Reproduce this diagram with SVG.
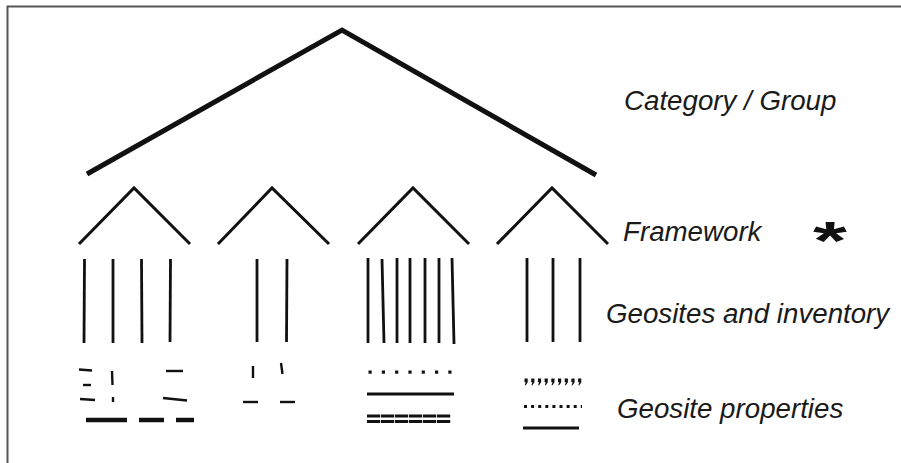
<svg xmlns="http://www.w3.org/2000/svg" width="901" height="463" viewBox="0 0 901 463">
  <style>
    .label { font-family: "Liberation Sans", Arial, sans-serif; font-style: italic; font-size: 27.7px; fill: #1a1a1a; }
    .roof-big { fill: none; stroke: #111; stroke-width: 5; stroke-linecap: butt; stroke-linejoin: miter; }
    .roof { fill: none; stroke: #111; stroke-width: 3; stroke-linejoin: miter; }
    .site { stroke: #111; stroke-width: 2.8; }
    .mark { stroke: #111; stroke-width: 2.4; }
    .bar { stroke: #111; stroke-width: 4.5; }
    .line3 { stroke: #111; stroke-width: 3; }
    .dot { fill: #111; }
  </style>
  <rect width="901" height="463" fill="#fff"/>
  <!-- frame (top and left edges) -->
  <path d="M7.5,463 V6.5 H901" fill="none" stroke="#555" stroke-width="2"/>

  <!-- labels -->
  <g id="label-category"><text class="label" x="624" y="110">Category / Group</text></g>
  <g id="label-framework"><text class="label" x="623" y="241">Framework</text></g>
  <g id="label-geosites"><text class="label" x="606" y="323">Geosites and inventory</text></g>
  <g id="label-properties"><text class="label" x="617" y="418">Geosite properties</text></g>
  <g id="asterisk"><text transform="translate(830,258.6) scale(1.36,0.83)" text-anchor="middle" font-family="Liberation Sans, Arial, sans-serif" font-weight="bold" font-size="64" fill="#111">*</text></g>

  <!-- category roof -->
  <g id="category"><polyline class="roof-big" points="87,174 342,30 596,175"/></g>

  <!-- framework roofs -->
  <g id="frameworks">
    <polyline class="roof" points="79,244 134,188 190,244"/>
    <polyline class="roof" points="218,244 272,188 329,244"/>
    <polyline class="roof" points="358,244 413,188 469,244"/>
    <polyline class="roof" points="497,244 552,188 608,244"/>
  </g>

  <!-- geosite inventories -->
  <g id="geosites-1">
    <line class="site" x1="84.5" y1="259" x2="84" y2="343"/>
    <line class="site" x1="113" y1="259" x2="113" y2="343"/>
    <line class="site" x1="141.5" y1="259" x2="142" y2="343"/>
    <line class="site" x1="170.5" y1="259" x2="170" y2="342"/>
  </g>
  <g id="geosites-2">
    <line class="site" x1="257" y1="259" x2="257" y2="342"/>
    <line class="site" x1="287" y1="259" x2="286.5" y2="342"/>
  </g>
  <g id="geosites-3">
    <line class="site" x1="368" y1="258" x2="368" y2="343"/>
    <line class="site" x1="382" y1="259" x2="384" y2="343"/>
    <line class="site" x1="397" y1="258" x2="397" y2="343"/>
    <line class="site" x1="410" y1="258" x2="410" y2="343"/>
    <line class="site" x1="425" y1="258" x2="425" y2="343"/>
    <line class="site" x1="439" y1="258" x2="439" y2="343"/>
    <line class="site" x1="452" y1="258" x2="454" y2="344"/>
  </g>
  <g id="geosites-4">
    <line class="site" x1="527" y1="258" x2="527" y2="342"/>
    <line class="site" x1="553" y1="258" x2="553" y2="342"/>
    <line class="site" x1="580" y1="258" x2="580" y2="342"/>
  </g>

  <!-- geosite properties -->
  <g id="properties-1">
    <line class="mark" x1="79" y1="369.5" x2="92" y2="370.5"/>
    <line class="mark" x1="83" y1="385" x2="91" y2="385"/>
    <line class="mark" x1="80" y1="399" x2="95" y2="400"/>
    <line class="mark" x1="112" y1="371" x2="112.5" y2="385"/>
    <line class="mark" x1="113" y1="397" x2="113" y2="402"/>
    <line class="mark" x1="166" y1="371" x2="183" y2="371"/>
    <line class="mark" x1="163" y1="398" x2="187" y2="400.5"/>
    <line class="bar" x1="86" y1="420" x2="127" y2="420"/>
    <line class="bar" x1="139" y1="420" x2="164" y2="420"/>
    <line class="bar" x1="176" y1="420" x2="194" y2="420"/>
  </g>
  <g id="properties-2">
    <line class="mark" x1="253" y1="366" x2="253" y2="378"/>
    <line class="mark" x1="281" y1="363" x2="282.5" y2="374"/>
    <line class="mark" x1="243" y1="402" x2="258" y2="402"/>
    <line class="mark" x1="280" y1="402" x2="295" y2="402"/>
  </g>
  <g id="properties-3">
    <g class="dot">
      <rect x="368.5" y="370.5" width="3.2" height="3.2"/>
      <rect x="381.8" y="370.5" width="3.2" height="3.2"/>
      <rect x="395.1" y="370.5" width="3.2" height="3.2"/>
      <rect x="408.4" y="370.5" width="3.2" height="3.2"/>
      <rect x="421.7" y="370.5" width="3.2" height="3.2"/>
      <rect x="435" y="370.5" width="3.2" height="3.2"/>
      <rect x="448.3" y="370.5" width="3.2" height="3.2"/>
    </g>
    <line class="line3" x1="367" y1="394" x2="454" y2="394"/>
    <line class="line3" x1="367" y1="416" x2="451" y2="416" stroke-dasharray="13.2 0.8"/>
    <line class="line3" x1="367" y1="421.5" x2="451" y2="421.5" stroke-dasharray="13.2 0.8"/>
  </g>
  <g id="properties-4">
    <g class="dot">
      <path d="M524.5,378.5 h3.2 v3.8 l-2,3 h-1 l1,-3 h-1.2 z"/>
      <path d="M531.2,378.5 h3.2 v3.8 l-2,3 h-1 l1,-3 h-1.2 z"/>
      <path d="M537.9,378.5 h3.2 v3.8 l-2,3 h-1 l1,-3 h-1.2 z"/>
      <path d="M544.6,378.5 h3.2 v3.8 l-2,3 h-1 l1,-3 h-1.2 z"/>
      <path d="M551.3,378.5 h3.2 v3.8 l-2,3 h-1 l1,-3 h-1.2 z"/>
      <path d="M558,378.5 h3.2 v3.8 l-2,3 h-1 l1,-3 h-1.2 z"/>
      <path d="M564.7,378.5 h3.2 v3.8 l-2,3 h-1 l1,-3 h-1.2 z"/>
      <path d="M571.4,378.5 h3.2 v3.8 l-2,3 h-1 l1,-3 h-1.2 z"/>
      <path d="M578.1,378.5 h3.2 v3.8 l-2,3 h-1 l1,-3 h-1.2 z"/>
    </g>
    <line class="line3" x1="524" y1="406.5" x2="582" y2="406.5" stroke-width="2.8" stroke-dasharray="3 4.1"/>
    <line class="line3" x1="523" y1="428" x2="579" y2="428"/>
  </g>
</svg>
